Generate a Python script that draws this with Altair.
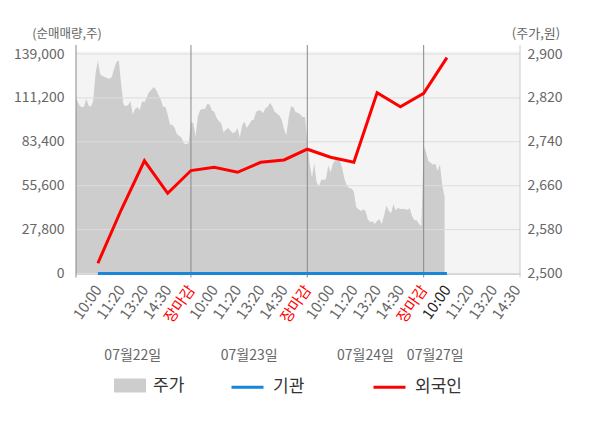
import json
import altair as alt
import pandas as pd

# ---------------- data ----------------
tick_labels = ["10:00", "11:20", "13:20", "14:30", "장마감",
               "10:00", "11:20", "13:20", "14:30", "장마감",
               "10:00", "11:20", "13:20", "14:30", "장마감",
               "10:00", "11:20", "13:20", "14:30"]
date_labels = ["07월22일", "07월23일", "07월24일", "07월27일"]

# stock price (won), sampled through each trading day
price_day1 = [2816, 2816, 2807, 2803, 2804, 2818, 2806, 2804, 2815, 2865,
              2888, 2863, 2860, 2858, 2856, 2855, 2858, 2873, 2886, 2888,
              2845, 2808, 2805, 2807, 2814, 2790, 2800, 2803, 2798, 2814,
              2812, 2821, 2831, 2835, 2840, 2835, 2826, 2817, 2804, 2804,
              2790, 2771, 2771, 2765, 2754, 2751, 2747, 2737, 2736, 2738]
price_day2 = [2777, 2774, 2750, 2787, 2798, 2800, 2800, 2809, 2808, 2797,
              2795, 2784, 2778, 2774, 2757, 2762, 2765, 2760, 2756, 2758,
              2765, 2748, 2770, 2777, 2765, 2772, 2779, 2780, 2795, 2797,
              2797, 2792, 2801, 2804, 2811, 2804, 2795, 2791, 2788, 2780,
              2763, 2752, 2785, 2805, 2803, 2794, 2793, 2790, 2785, 2785]
price_day3 = [2740, 2700, 2675, 2701, 2666, 2659, 2671, 2671, 2672, 2697,
              2684, 2700, 2707, 2708, 2705, 2692, 2672, 2660, 2656, 2655,
              2649, 2621, 2617, 2614, 2617, 2614, 2599, 2594, 2595, 2590,
              2596, 2599, 2590, 2606, 2624, 2614, 2610, 2626, 2615, 2620,
              2617, 2618, 2617, 2616, 2619, 2605, 2597, 2597, 2590, 2586]
price_day4 = [2733, 2722, 2705, 2702, 2698, 2700, 2687, 2699, 2660, 2640]

# cumulative net buying (shares) at each labelled time
foreign = [6500, 40200, 71400, 50800, 65200,
           67300, 64100, 70400, 71900, 78700,
           73600, 70400, 114500, 105600, 114100,
           136700]
institution = [0, 0, 0, 0, 0, 0, 0, 0, 0, 0, 0, 0, 0, 0, 0, 0]

left_ticks = [0, 27800, 55600, 83400, 111200, 139000]
right_ticks = [2500, 2580, 2660, 2740, 2820, 2900]

# ---------------- tables ----------------
SLOTS_PER_DAY = 5
days = [price_day1, price_day2, price_day3, price_day4]
rows = []
for d, vals in enumerate(days):
    step = SLOTS_PER_DAY / 50.0
    for k, v in enumerate(vals):
        rows.append({"slot": d * SLOTS_PER_DAY + k * step, "price": v, "series": "주가"})
area_df = pd.DataFrame(rows)

line_rows = []
for i, v in enumerate(institution):
    line_rows.append({"slot": i + 1, "value": v, "series": "기관"})
for i, v in enumerate(foreign):
    line_rows.append({"slot": i + 1, "value": v, "series": "외국인"})
line_df = pd.DataFrame(line_rows)

grid_df = pd.DataFrame({"tick": left_ticks})
close_slots = [i + 1 for i, t in enumerate(tick_labels) if t == "장마감"]
bound_df = pd.DataFrame({"slot": close_slots})

W, H = 444, 222
X_DOMAIN = [0.06, 19.14]
LEFT_MAX = 140590
RIGHT_MAX = 2904.6
FONT = "Noto Sans CJK KR"

edge_df = pd.DataFrame({"slot": X_DOMAIN, "edge": ["left", "right"]})

last_slot = len(foreign)
date_rows = []
for d, lab in enumerate(date_labels):
    start = d * SLOTS_PER_DAY
    end = min(start + SLOTS_PER_DAY, last_slot)
    date_rows.append({"slot": (start + end) / 2.0, "label": lab})
date_df = pd.DataFrame(date_rows)

# ---------------- chart ----------------
red_test = " || ".join(f"datum.value == {s}" for s in close_slots)
label_expr = json.dumps(tick_labels, ensure_ascii=False) + "[datum.value - 1]"

x_axis = alt.Axis(
    values=list(range(1, len(tick_labels) + 1)),
    labelExpr=label_expr,
    labelAngle=305, labelAlign="right", labelBaseline="middle",
    labelPadding=13, labelFontSize=15, labelFont=FONT,
    labelColor={"condition": [{"test": red_test, "value": "#ff0000"},
                              {"test": f"datum.value == {last_slot}", "value": "#222222"}],
                "value": "#666666"},
    labelOverlap=False, labelFlush=False, labelBound=False,
    ticks=False, grid=False, domain=True, domainColor="#aaaaaa", title=None,
)
x_enc = alt.X("slot:Q", scale=alt.Scale(domain=X_DOMAIN, nice=False, zero=False), axis=x_axis)

area = alt.Chart(area_df).mark_area(clip=True).encode(
    x=x_enc,
    y=alt.Y("price:Q",
            scale=alt.Scale(domain=[2500, RIGHT_MAX], nice=False, zero=False),
            axis=alt.Axis(orient="right", values=right_ticks, labelExpr="format(datum.value, ',')",
                          grid=False, ticks=False, domain=False,
                          labelPadding=7, labelColor="#666666", labelFontSize=14, labelFont=FONT,
                          title="(주가,원)", titleAngle=0, titleX=15.5, titleY=-18,
                          titleAlign="center", titleBaseline="middle", titleFont=FONT,
                          titleFontWeight="normal", titleFontSize=13, titleColor="#666666")),
    y2=alt.datum(2500),
    color=alt.Color("series:N",
                    scale=alt.Scale(domain=["주가"], range=["#cdcdcd"]),
                    legend=alt.Legend(orient="none", legendX=38, legendY=318,
                                      direction="horizontal", title=None,
                                      symbolType="M-1,-0.4375H1V0.4375H-1Z",
                                      symbolSize=1024, symbolStrokeWidth=0,
                                      labelFontSize=17, labelColor="#333333", labelFont=FONT,
                                      labelOffset=7, padding=0)),
)

grid = alt.Chart(grid_df).mark_rule(color="#dcdcdc", strokeWidth=1).encode(
    y=alt.Y("tick:Q", scale=alt.Scale(domain=[0, LEFT_MAX], nice=False), axis=None)
)

bounds = alt.Chart(bound_df).mark_rule(color="#888888", strokeWidth=1).encode(
    x=x_enc, y=alt.value(-6.5), y2=alt.value(H + 4)
)

edges = alt.Chart(edge_df).mark_rule(strokeWidth=1).encode(
    x=x_enc, y=alt.value(-6.5), y2=alt.value(H + 4),
    color=alt.Color("edge:N", scale=alt.Scale(domain=["left", "right"], range=["#888888", "#cccccc"]),
                    legend=None),
)

lines = alt.Chart(line_df).mark_line(strokeWidth=3).encode(
    x=x_enc,
    y=alt.Y("value:Q", scale=alt.Scale(domain=[0, LEFT_MAX], nice=False),
            axis=alt.Axis(orient="left", values=left_ticks, labelExpr="format(datum.value, ',')",
                          grid=False, ticks=False, domain=False,
                          labelPadding=12, labelColor="#666666", labelFontSize=14, labelFont=FONT,
                          title="(순매매량,주)", titleAngle=0, titleX=-9.5, titleY=-18,
                          titleAlign="center", titleBaseline="middle", titleFont=FONT,
                          titleFontWeight="normal", titleFontSize=12.5, titleColor="#666666")),
    stroke=alt.Stroke("series:N",
                      scale=alt.Scale(domain=["기관", "외국인"], range=["#1a86d8", "#ff0000"]),
                      legend=alt.Legend(orient="none", legendX=154, legendY=318,
                                        direction="horizontal", title=None,
                                        symbolType="stroke", symbolSize=1024,
                                        symbolStrokeWidth=3, labelFontSize=17, labelFont=FONT,
                                        labelColor="#333333", labelOffset=8,
                                        columnPadding=62, padding=0)),
    order=alt.Order("slot:Q"),
)

dates = alt.Chart(date_df).mark_text(fontSize=14, color="#666666", baseline="middle", font=FONT).encode(
    x=x_enc, y=alt.value(H + 82), text="label:N"
)

chart = alt.layer(area, grid, bounds, edges, lines, dates).resolve_scale(
    y="independent", color="independent"
).properties(
    width=W, height=H,
    padding={"left": 68, "top": 43.5, "right": 72, "bottom": 146},
    autosize="none",
).configure(font=FONT).configure_view(fill="#f4f4f4", strokeWidth=0)

chart.save("out.html", embed_options={"renderer": "svg", "actions": False})
